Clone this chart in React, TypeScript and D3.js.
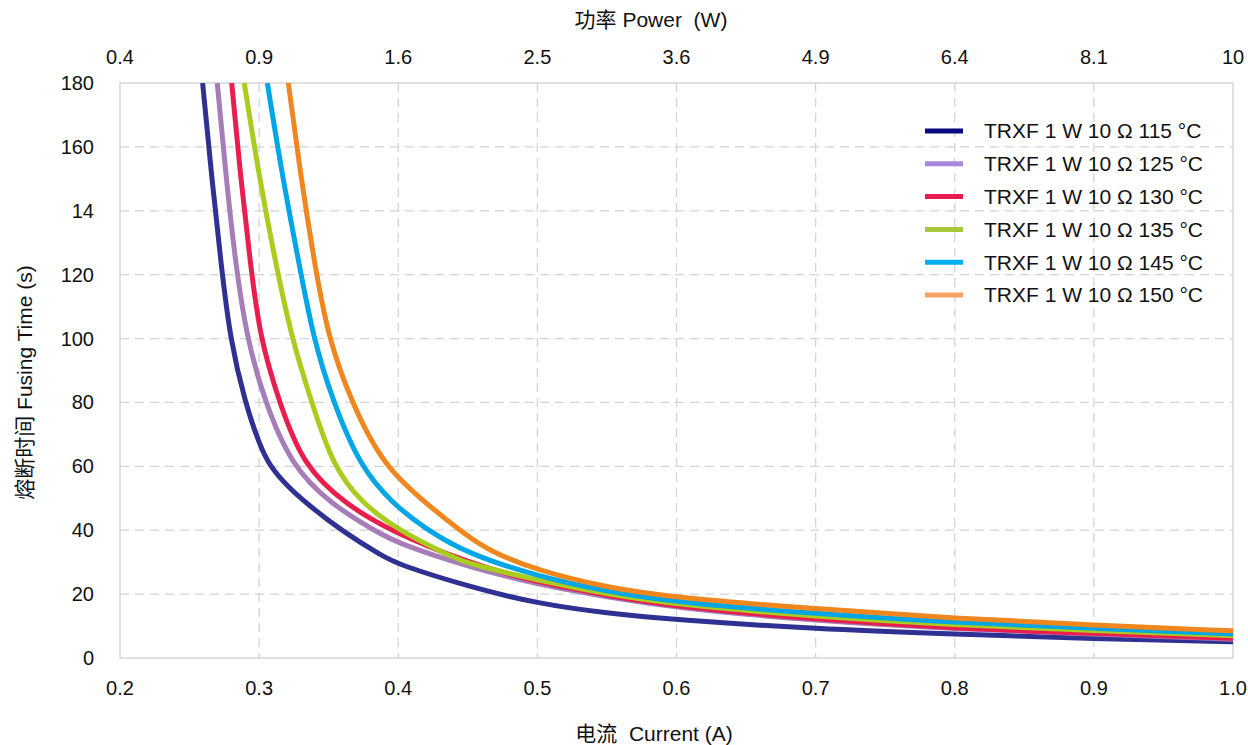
import React from "react";
import * as d3 from "d3";

const currentTicks = [0.2, 0.3, 0.4, 0.5, 0.6, 0.7, 0.8, 0.9, 1.0];
const currentTickLabels = ["0.2", "0.3", "0.4", "0.5", "0.6", "0.7", "0.8", "0.9", "1.0"];
const powerTickLabels = ["0.4", "0.9", "1.6", "2.5", "3.6", "4.9", "6.4", "8.1", "10"];
const timeTicks = [0, 20, 40, 60, 80, 100, 120, 140, 160, 180];
const timeTickLabels = ["0", "20", "40", "60", "80", "100", "120", "14", "160", "180"];

const seriesNames = [
  "TRXF 1 W 10 Ω 115 °C",
  "TRXF 1 W 10 Ω 125 °C",
  "TRXF 1 W 10 Ω 130 °C",
  "TRXF 1 W 10 Ω 135 °C",
  "TRXF 1 W 10 Ω 145 °C",
  "TRXF 1 W 10 Ω 150 °C",
];
const lineColors = ["#2e3192", "#a67db8", "#e91e4f", "#a8cd1e", "#00a6e6", "#f0861e"];
const legendColors = ["#0a0a80", "#a987dd", "#ec1a52", "#a5c93a", "#00b0f0", "#f5a263"];

// [current (A), fusing time (s)]
const s115: [number, number][] = [
  [0.2594, 180], [0.266, 150], [0.273, 122], [0.2791, 100], [0.2898, 80], [0.3006, 66.4],
  [0.3078, 60], [0.3208, 53.5], [0.3351, 48], [0.3603, 39.5], [0.389, 31.8], [0.4, 29.3],
  [0.45, 22.4], [0.5, 17.0], [0.55, 14.0], [0.6, 11.9], [0.7, 9.1], [0.8, 7.5], [0.9, 6.0], [1.0, 5.1],
];
const s125: [number, number][] = [
  [0.2699, 180], [0.2764, 150], [0.2827, 124.6], [0.2911, 100], [0.3042, 80], [0.3234, 60],
  [0.3522, 48], [0.3821, 40.1], [0.4, 35.8], [0.45, 28.6], [0.5, 23.0], [0.55, 19.1],
  [0.6, 15.7], [0.7, 11.6], [0.8, 9.1], [0.9, 7.5], [1.0, 5.9],
];
const s130: [number, number][] = [
  [0.2803, 180], [0.2868, 150], [0.2934, 124.6], [0.3006, 100], [0.3145, 80], [0.3318, 60],
  [0.3629, 48], [0.3928, 40.1], [0.45, 29.8], [0.5, 23.6], [0.55, 19.6],
  [0.6, 16.0], [0.7, 12.1], [0.8, 9.3], [0.9, 7.7], [1.0, 6.2],
];
const s135: [number, number][] = [
  [0.2893, 180], [0.3003, 150], [0.3114, 124.6], [0.3234, 100], [0.3378, 80], [0.3531, 60],
  [0.3737, 48.5], [0.4013, 39.6], [0.442, 31.0], [0.45, 29.6], [0.5, 24.3], [0.55, 20.0],
  [0.6, 16.7], [0.7, 13.0], [0.8, 10.3], [0.9, 8.6], [1.0, 7.0],
];
const s145: [number, number][] = [
  [0.3059, 180], [0.317, 150], [0.3282, 124.6], [0.3389, 100], [0.3533, 80], [0.3725, 60],
  [0.3955, 48.5], [0.4192, 40.5], [0.45, 32.6], [0.5, 25.6], [0.55, 20.8],
  [0.6, 17.4], [0.7, 13.9], [0.8, 11.1], [0.9, 9.3], [1.0, 7.5],
];
const s150: [number, number][] = [
  [0.321, 180], [0.3302, 150], [0.3394, 124.6], [0.3497, 100], [0.3665, 80], [0.3893, 60],
  [0.423, 47.3], [0.45, 38.0], [0.466, 33.4], [0.5, 27.4], [0.55, 22.0],
  [0.6, 18.8], [0.7, 15.4], [0.8, 12.4], [0.9, 10.3], [1.0, 8.5],
];
const seriesData = [s115, s125, s130, s135, s145, s150];

const W = 1248;
const H = 745;
const left = 120;
const right = 1233;
const top = 83;
const bottom = 658;
const font = "Arial, 'Liberation Sans', 'Noto Sans CJK SC', sans-serif";

export default function App() {
  const x = d3.scaleLinear().domain([0.2, 1.0]).range([left, right]);
  const y = d3.scaleLinear().domain([0, 180]).range([bottom, top]);
  const line = d3
    .line<[number, number]>()
    .x((d) => x(d[0]))
    .y((d) => y(d[1]))
    .curve(d3.curveBasis);

  const grid = "#d4d4d4";

  return (
    <svg
      width={W}
      height={H}
      style={{ position: "absolute", left: 0, top: 0, background: "#fff" }}
      fontFamily={font}
    >
      <defs>
        <clipPath id="plot">
          <rect x={left} y={top} width={right - left} height={bottom - top} />
        </clipPath>
      </defs>
      {currentTicks.slice(1, -1).map((t) => (
        <line key={"vx" + t} x1={x(t)} x2={x(t)} y1={top} y2={bottom} stroke={grid} strokeWidth={1.3} strokeDasharray="9,6" />
      ))}
      {timeTicks.slice(1, -1).map((t) => (
        <line key={"hy" + t} x1={left} x2={right} y1={y(t)} y2={y(t)} stroke={grid} strokeWidth={1.3} strokeDasharray="9,6" />
      ))}
      <rect x={left} y={top} width={right - left} height={bottom - top} fill="none" stroke="#d0d0d0" strokeWidth={1.3} />

      <g clipPath="url(#plot)">
        {seriesData.map((s, i) => (
          <path key={i} d={line(s) || ""} fill="none" stroke={lineColors[i]} strokeWidth={5} strokeLinejoin="round" />
        ))}
      </g>

      {timeTicks.map((t, i) => (
        <text key={"yt" + t} x={94} y={y(t)} dy="0.35em" textAnchor="end" fontSize={20} fill="#111">
          {timeTickLabels[i]}
        </text>
      ))}
      {currentTicks.map((t, i) => (
        <text key={"bt" + t} x={x(t)} y={688} dy="0.35em" textAnchor="middle" fontSize={20} fill="#111">
          {currentTickLabels[i]}
        </text>
      ))}
      {currentTicks.map((t, i) => (
        <text key={"tt" + t} x={x(t)} y={57} dy="0.35em" textAnchor="middle" fontSize={20} fill="#111">
          {powerTickLabels[i]}
        </text>
      ))}

      <text x={651} y={20} dy="0.35em" textAnchor="middle" fontSize={21} fill="#111" style={{ whiteSpace: "pre" }}>
        {"功率 Power  (W)"}
      </text>
      <text x={654} y={734} dy="0.35em" textAnchor="middle" fontSize={21} fill="#111" style={{ whiteSpace: "pre" }}>
        {"电流  Current (A)"}
      </text>
      <text
        transform={`translate(25, ${(top + bottom) / 2 + 12}) rotate(-90)`}
        dy="0.35em"
        textAnchor="middle"
        fontSize={21}
        fill="#111"
      >
        熔断时间 Fusing Time (s)
      </text>

      {seriesNames.map((n, i) => {
        const ly = 131 + i * 32.8;
        return (
          <g key={n}>
            <line x1={925} x2={963} y1={ly} y2={ly} stroke={legendColors[i]} strokeWidth={5} />
            <text x={984} y={ly} dy="0.35em" fontSize={21} fill="#111">
              {n}
            </text>
          </g>
        );
      })}
    </svg>
  );
}
